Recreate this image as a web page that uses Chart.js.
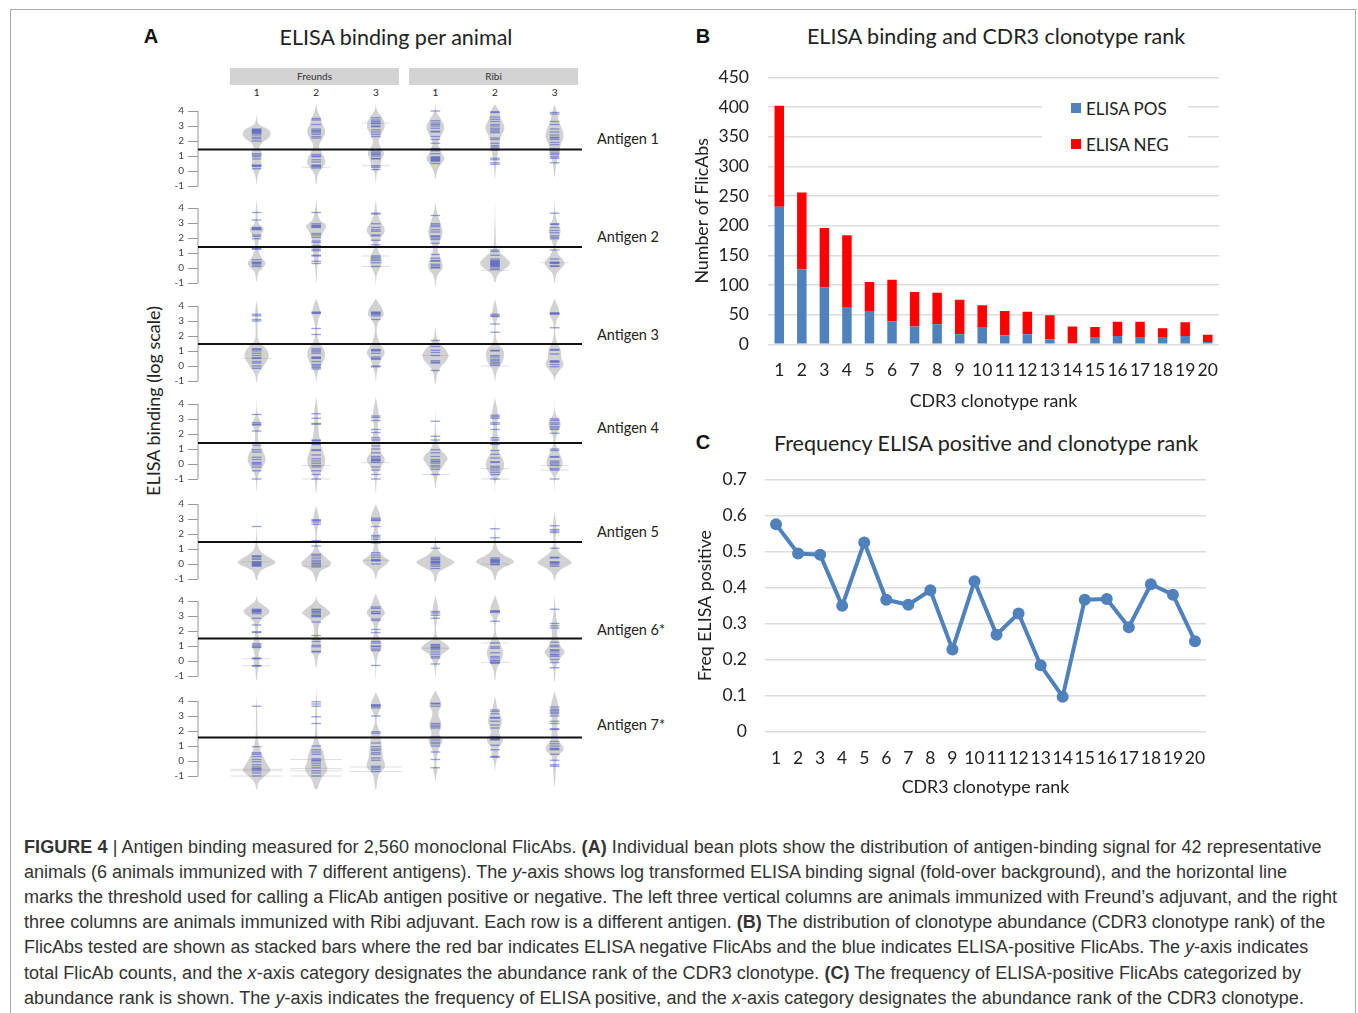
<!DOCTYPE html>
<html>
<head>
<meta charset="utf-8">
<title>Figure 4</title>
<script src="https://cdn.jsdelivr.net/npm/chart.js@4"></script>
<style>
  html, body { margin: 0; padding: 0; background: #fff; overflow: hidden; }
  body { width: 1358px; height: 1013px; position: relative; font-family: Lato, sans-serif; color: #222; }
  canvas { position: absolute; }
  canvas.row { filter: blur(0.45px); }
  .txt { position: absolute; white-space: nowrap; transform: translate(-50%, -50%); }
  .left { transform: translateY(-50%); }
  .letter { font: bold 20px "Liberation Sans", sans-serif; color: #111; }
  .title { font-size: 21.5px; }
  .strip { position: absolute; background: #d3d3d3; text-align: center; font-size: 10px; line-height: 17px; color: #333; }
  .line { position: absolute; left: 24px; white-space: nowrap; font: 18px "Liberation Sans", sans-serif; color: #333; }
  #frame { position: absolute; left: 10px; top: 9px; width: 1346px; height: 1100px; border: 1px solid #aaa; box-sizing: border-box; }
  #legend { position: absolute; left: 1042px; top: 90px; width: 146px; height: 72px; background: #fff; }
  .swatch { position: absolute; width: 10px; height: 10px; }
</style>
</head>
<body>
<div id="frame"></div>

<div class="txt letter" style="left:151px;top:36px">A</div>
<div class="txt title" style="left:396px;top:37px">ELISA binding per animal</div>
<div class="strip" style="left:230px;top:68px;width:169px;height:17px">Freunds</div>
<div class="strip" style="left:409px;top:68px;width:169px;height:17px">Ribi</div>
<div class="txt" style="left:153px;top:401px;font-size:18px;transform:translate(-50%,-50%) rotate(-90deg)">ELISA binding (log scale)</div>

<div class="txt letter" style="left:703px;top:36px">B</div>
<div class="txt title" style="left:996px;top:36px">ELISA binding and CDR3 clonotype rank</div>

<div class="txt letter" style="left:703px;top:442px">C</div>
<div class="txt title" style="left:986px;top:443px">Frequency ELISA positive and clonotype rank</div>

<canvas id="chartB" width="528" height="352" style="left:692px;top:60px"></canvas>
<canvas id="chartC" width="512" height="338" style="left:695px;top:460px"></canvas>

<div id="legend"></div>
<div class="swatch" style="left:1071px;top:103px;background:#4f81bd"></div>
<div class="txt left" style="left:1086px;top:108px;font-size:17px">ELISA POS</div>
<div class="swatch" style="left:1071px;top:139px;background:#ff0000"></div>
<div class="txt left" style="left:1086px;top:144px;font-size:17px">ELISA NEG</div>

<div class="line" style="top:837px;letter-spacing:0.07px"><b>FIGURE 4</b> | Antigen binding measured for 2,560 monoclonal FlicAbs. <b>(A)</b> Individual bean plots show the distribution of antigen-binding signal for 42 representative</div>
<div class="line" style="top:862px;letter-spacing:-0.007px">animals (6 animals immunized with 7 different antigens). The <i>y</i>-axis shows log transformed ELISA binding signal (fold-over background), and the horizontal line</div>
<div class="line" style="top:887px;letter-spacing:0">marks the threshold used for calling a FlicAb antigen positive or negative. The left three vertical columns are animals immunized with Freund’s adjuvant, and the right</div>
<div class="line" style="top:912px;letter-spacing:0.02px">three columns are animals immunized with Ribi adjuvant. Each row is a different antigen. <b>(B)</b> The distribution of clonotype abundance (CDR3 clonotype rank) of the</div>
<div class="line" style="top:937px;letter-spacing:0.012px">FlicAbs tested are shown as stacked bars where the red bar indicates ELISA negative FlicAbs and the blue indicates ELISA-positive FlicAbs. The <i>y</i>-axis indicates</div>
<div class="line" style="top:963px;letter-spacing:0.05px">total FlicAb counts, and the <i>x</i>-axis category designates the abundance rank of the CDR3 clonotype. <b>(C)</b> The frequency of ELISA-positive FlicAbs categorized by</div>
<div class="line" style="top:988px;letter-spacing:0.055px">abundance rank is shown. The <i>y</i>-axis indicates the frequency of ELISA positive, and the <i>x</i>-axis category designates the abundance rank of the CDR3 clonotype.</div>

<script>
// panel B + C data
const ranks = ['1','2','3','4','5','6','7','8','9','10','11','12','13','14','15','16','17','18','19','20'];
const elisaPos = [232,126,96,63,55,39,30,34,17,28,15,17,8,2,11,14,11,11,14,4];
const elisaNeg = [170,130,100,121,50,70,58,53,58,38,41,38,41,28,18,24,27,16,23,12];
const freqPos = [0.575,0.494,0.491,0.349,0.525,0.366,0.352,0.392,0.228,0.417,0.269,0.328,0.184,0.097,0.366,0.368,0.29,0.409,0.38,0.251];

// panel A data, one block per antigen
const antigens = ['Antigen 1','Antigen 2','Antigen 3','Antigen 4','Antigen 5','Antigen 6*','Antigen 7*'];
const animals = ['1','2','3','1','2','3'];
const thresholds = [1.43,1.4,1.47,1.4,1.47,1.5,1.57];

// bean outline per animal: [log binding, density]
const beans1 = [
  [[3.75,0],[3.2,1.5],[3,5],[2.8,11],[2.5,14],[2.2,12],[1.95,7],[1.6,3],[1.2,5],[0.8,4],[0.4,5],[0,3],[-0.4,1],[-0.9,0]],
  [[4.5,0],[4,1.5],[3.6,4],[3.2,6],[2.6,9],[2.1,6],[1.7,3],[1.3,5],[0.9,8],[0.5,9],[0.2,6],[-0.2,2],[-0.9,0]],
  [[4.5,0],[4,1.5],[3.6,6],[3,9],[2.5,6],[2,3],[1.7,4],[1.2,8],[0.8,6],[0.3,4],[-0.2,1],[-0.8,0]],
  [[4.5,0],[3.9,1.5],[3.4,6],[2.9,9],[2.4,6],[1.9,3],[1.5,4],[1.1,7],[0.8,9],[0.4,5],[0,2],[-0.5,0]],
  [[4.45,0],[4,4],[3.5,6],[2.85,9.5],[2.3,6],[1.7,4],[1.2,3],[0.8,2],[0.3,1],[-0.5,0]],
  [[4.45,0],[3.9,2.5],[3.3,4.5],[2.4,9],[1.7,6],[1.2,5],[0.6,2],[-0.4,0]]
];
const beans2 = [
  [[4.6,0],[3.7,1],[3,2],[2.6,7],[2.3,5],[1.8,2],[1.2,2],[0.7,5],[0.3,9],[0,6],[-0.3,2],[-0.9,0]],
  [[4.6,0],[3.7,1.5],[3.2,4],[2.8,10],[2.4,7],[1.8,4],[1,3],[0.4,2],[0,1],[-1,0]],
  [[4.55,0],[3.6,2],[3.1,5],[2.5,9],[2,5],[1.4,2],[0.8,5],[0.4,6],[0,4],[-0.5,1],[-1.1,0]],
  [[4.4,0],[3.6,2],[3,5],[2.3,7],[1.5,3],[1,3],[0.5,6],[0,7],[-0.5,2],[-1.2,0]],
  [[4.6,0],[2.5,0.6],[1.5,1.5],[1.1,4],[0.8,9],[0.55,13],[0.35,15],[0.1,13],[-0.15,8],[-0.45,3],[-0.7,1.5],[-1,0]],
  [[4.55,0],[3.6,1],[3,3],[2.5,6],[2,4],[1.4,1.5],[0.9,4],[0.35,10],[0,7],[-0.4,2],[-1,0]]
];
const beans3 = [
  [[4.4,0],[3.5,1.5],[2.5,1],[1.7,2],[1.4,6],[1.1,10],[0.8,12],[0.5,11.5],[0.1,8],[-0.3,4],[-0.6,1.5],[-1.1,0]],
  [[4.5,0],[3.6,4],[3,2],[2.2,1],[1.6,3],[1.2,7],[0.8,9],[0.3,7],[-0.2,3],[-0.6,1],[-1.1,0]],
  [[4.5,0],[3.5,8],[3.1,4],[2.5,1],[1.7,3],[1.3,6],[0.9,9],[0.5,6],[0,3],[-0.5,1],[-1,0]],
  [[2.6,0],[1.8,2],[1.4,6],[1.1,10],[0.7,13],[0.3,10.5],[-0.1,5],[-0.5,2],[-1.2,0]],
  [[4.5,0],[3.4,3],[2.8,1],[2,1],[1.5,3],[1.1,8],[0.7,9],[0.2,7],[-0.2,3],[-0.6,1],[-1,0]],
  [[4.5,0],[3.5,5],[3,2],[2.2,0.8],[1.5,3],[1.1,6],[0.5,7],[0.1,9],[-0.3,5],[-0.7,1],[-1,0]]
];
const beans4 = [
  [[4.4,0],[3.3,1],[2.7,4],[2.2,2],[1.5,2],[0.9,6],[0.3,9],[-0.2,6],[-0.8,1.5],[-1.8,0]],
  [[4.5,0],[3.4,2],[2.6,2],[1.5,4],[0.8,7],[0.2,9],[-0.4,6],[-0.9,2],[-1.9,0]],
  [[4.5,0],[3.2,3],[2.4,2],[1.5,4],[0.8,5],[0.3,9],[-0.2,5],[-0.8,1.5],[-1.9,0]],
  [[3.7,0],[2.5,0.6],[1.5,2],[1,5],[0.4,12],[0,9],[-0.5,4],[-1,1.5],[-1.6,0]],
  [[4.4,0],[3.3,3],[2.5,2],[1.7,3],[0.8,4],[0.3,8],[-0.2,9],[-0.7,5],[-1.1,1],[-1.9,0]],
  [[4.3,0],[3.4,1],[2.7,6],[2.1,3],[1.5,1],[1,3],[0.4,7],[0,8],[-0.4,5],[-0.9,1],[-1.9,0]]
];
const beans5 = [
  [[3.5,0],[1.8,0.5],[1.1,2],[0.8,5],[0.55,10],[0.3,16],[0.12,19],[-0.1,15],[-0.3,8],[-0.55,3],[-1.1,0]],
  [[3.9,0],[2.9,3],[2.2,1],[1.5,1],[0.9,3],[0.6,7],[0.3,12],[0.05,15],[-0.2,12],[-0.45,5],[-0.8,2],[-1.2,0]],
  [[4,0],[3,5],[2.4,2],[1.9,3],[1.3,2],[0.9,3],[0.6,6],[0.4,10],[0.22,13],[0,11],[-0.25,6],[-0.55,2],[-1,0]],
  [[1.9,0],[1.1,2],[0.75,5],[0.5,10],[0.3,16],[0.12,19],[-0.1,15],[-0.35,8],[-0.6,3],[-1.2,0]],
  [[3.2,0],[2,0.8],[1.1,2],[0.8,5],[0.55,10],[0.35,16],[0.15,19],[-0.05,15],[-0.3,7],[-0.6,2.5],[-1.1,0]],
  [[3.5,0],[2.3,2],[1.5,1],[1,3],[0.7,6],[0.45,11],[0.25,15],[0.05,17],[-0.15,12],[-0.4,6],[-0.7,2],[-1.1,0]]
];
const beans6 = [
  [[4.4,0],[4,1.5],[3.75,6],[3.5,11],[3.3,13],[3.1,11],[2.85,6],[2.4,2],[1.6,2],[1,4],[0.4,2],[0,3],[-0.5,1.5],[-1.3,0]],
  [[4.4,0],[4,1.5],[3.7,6],[3.45,11],[3.2,14],[3,11],[2.75,6],[2.4,3],[1.8,2],[1.3,4],[0.7,5],[0.3,2],[-0.5,0]],
  [[4.5,0],[3.7,5],[3.2,9],[2.8,5],[2.3,2],[1.8,2],[1,6],[0.5,3],[0,1],[-1.2,0]],
  [[4.4,0],[3.3,3],[2.9,2],[2,0.8],[1.5,3],[1.25,8],[1.05,12],[0.85,14],[0.65,11],[0.4,6],[0,3],[-0.4,1],[-1.1,0]],
  [[4.4,0],[3.3,5],[2.8,2],[1.9,1],[1.2,5],[0.6,8],[0,6],[-0.5,2],[-1.3,0]],
  [[4.4,0],[3,1.5],[2.3,3],[1.5,3],[0.9,7],[0.6,10],[0.2,6],[-0.3,2],[-1.4,0]]
];
const beans7 = [
  [[4.6,0],[3,0.6],[2,0.8],[1.2,2],[0.5,5],[0,9],[-0.35,12],[-0.6,14],[-0.85,11],[-1.15,6],[-1.45,2],[-1.9,0]],
  [[4.9,0],[3,1],[2,1],[1.2,3],[0.6,7],[0,9],[-0.6,11],[-1.2,5],[-1.9,0]],
  [[4.6,0],[3.7,5],[3.1,2],[2.6,1],[1.9,4],[1,6],[0.3,7],[-0.4,9],[-0.9,3],[-1.9,0]],
  [[4.7,0],[3.8,6],[3.2,3],[2.4,6],[1.8,4],[1.4,7],[0.9,4],[0.4,2],[-0.2,1],[-0.6,2],[-1,0.8],[-1.4,0]],
  [[4.3,0],[3.4,3],[2.7,7],[1.9,4],[1.4,8],[0.9,4],[0.3,3],[-0.1,1],[-0.7,0]],
  [[4.7,0],[3.5,4],[2.8,3],[2,3],[1.4,4],[0.8,9],[0.3,3],[-0.5,1.5],[-1.2,0.8],[-1.7,0]]
];

// single FlicAb binding values per animal
const lines1 = [
  [2.8,2.75,2.7,2.65,2.6,2.55,2.5,2.4,2.25,2.15,2,1.15,1.05,0.95,0.8,0.4,0.35,0.3,0.15],
  [3.5,3.4,3.1,2.8,2.7,2.65,2.55,2.45,2.3,2.2,1.1,1,0.95,0.75,0.6,0.4,0.35,0.3,0.2],
  [3.55,3.4,3.3,3.2,3.15,3,2.95,2.75,2.6,2.45,2.3,1.35,1.25,1.15,1.1,1,0.85,0.8,0.35,0.25,0.1],
  [4,3.35,3.2,3.1,3,2.85,2.65,2.6,2.3,2.1,1.85,1.5,1.35,1.15,0.95,0.9,0.85,0.8,0.75,0.7,0.65,0.5],
  [3.95,3.9,3.6,3.45,3.3,3.1,3,2.85,2.75,2.65,2.55,2.2,2.1,1.85,1.7,1.6,1.5,1.4,0.85,0.75,0.55,0.45],
  [3.9,3.8,3.3,3.1,2.8,2.6,2.4,2.25,2.2,2.1,1.9,1.75,1.5,1.35,1.2,1.1,0.95,0.85,0.55]
];
const lines2 = [
  [3.7,3.2,2.7,2.65,2.6,2.55,2.2,2.1,1.95,1.3,1.25,0.55,0.4,0.35,0.3,0.2,0.1],
  [3.7,2.95,2.85,2.8,2.75,2.7,2.3,2.2,2.05,1.8,1.7,1.5,1.25,1.15,0.85,0.8,0.45,0.3],
  [3.65,3.6,2.95,2.7,2.55,2.45,2.2,2.15,1.85,1.55,0.8,0.7,0.6,0.5,0.35,0.1],
  [3.5,2.95,2.85,2.75,2.55,2.4,2.15,2.1,2,1.9,1.65,0.9,0.65,0.5,0.45,0.25,0.15,0.05,0],
  [1.2,1.1,0.85,0.6,0.5,0.45,0.4,0.35,0.3,0.25,0.2,0.15,0.1,0,-0.1],
  [3.65,2.95,2.9,2.7,2.5,2.35,2.15,2.05,1.95,1.2,0.6,0.4,0.35,0.3,0.15,0.1]
];
const lines3 = [
  [3.45,3.35,3.1,3,1.15,1.1,1,0.85,0.7,0.55,0.5,0.3,0.2,0,-0.15],
  [3.6,3.55,3.5,2.5,2.1,1.15,1.05,0.95,0.85,0.6,0.55,0.5,0.3,0.1,0,-0.1,-0.2],
  [3.6,3.55,3.5,3.45,3.35,3.1,1.1,1.05,1,0.85,0.6,0.5,0.45,0,-0.05],
  [1.7,1.3,1.05,0.9,0.7,0.35,0.25,0.2,-0.3],
  [3.45,3.35,3.3,2.8,2.25,1.05,1,0.7,0.6,0.45,0.35,0.25,0.15,0.05],
  [3.55,3.5,3.45,2.55,1.1,1.05,0.8,0.35,0.3,0.25,0.1,-0.05]
];
const lines4 = [
  [3.3,2.75,2.65,2.6,2.2,1.25,0.95,0.8,0.45,0.3,0.1,0.05,-0.05,-0.2,-0.45,-1],
  [3.35,3.05,2.7,2.65,1.6,1.55,1.4,1.3,0.95,0.9,0.6,0.35,0.2,0.05,-0.1,-0.2,-0.45,-0.7,-1],
  [3.2,3.1,2.9,2.3,2.1,1.75,1.6,1.4,1.2,1,0.75,0.5,0.4,0.3,0.25,0.2,0.1,-0.2,-0.4,-0.7,-1],
  [2.85,1.85,1.6,0.95,0.75,0.5,0.3,0.2,0.15,0.05,-0.1,-0.2,-0.35,-0.7],
  [3.25,3.15,3.05,2.75,2.65,2.3,1.75,1.6,1.3,0.9,0.65,0.4,0.15,0.1,-0.15,-0.25,-0.4,-0.55,-0.7,-1],
  [3,2.9,2.75,2.65,2.5,2.4,2.3,2.05,1,0.9,0.5,0.45,0.2,0.1,0,-0.1,-0.3,-0.4,-1]
];
const lines5 = [
  [2.5,0.55,0.5,0.4,0.3,0.15,0.1,0.05,0,-0.05,-0.1,-0.15],
  [2.95,2.9,2.8,2.65,1.55,1.2,0.65,0.55,0.4,0.25,0.15,0.05,0,-0.1,-0.2],
  [3.05,2.95,2.9,2.5,1.9,1.8,1.65,1.4,0.75,0.6,0.45,0.3,0.25,0.2,0],
  [1.05,0.45,0.35,0.3,0.2,0.15,0.1,0.05,-0.05,-0.15,-0.3],
  [2.35,1.75,0.4,0.3,0.25,0.2,0.15,0.1,0,-0.05],
  [2.55,2.3,2.2,2.1,1.05,0.45,0.4,0.15,0.1,0.05,-0.05,-0.15]
];
const lines6 = [
  [3.45,3.4,3.35,3.3,3.25,3.15,2.85,2.4,1.95,1.9,1.15,1.05,0.95,0.9,0.2,0.15,-0.3,-0.35],
  [3.45,3.4,3.3,3.25,3.15,3.05,3,2.95,2.6,1.7,1.45,1.3,1.05,0.95,0.65,0.6],
  [3.6,3.5,3.3,3.2,3.15,2.8,2.7,2.1,1.9,1.3,1.2,1,0.95,0.8,0.7,-0.3],
  [3.3,3.2,3.05,2.85,1.1,1.05,0.95,0.9,0.85,0.75,0.6,0.45,0.3,0.2,-0.2],
  [3.35,3.3,3.25,2.65,1.2,0.95,0.85,0.55,0.3,0.2,0.05,0,-0.1,-0.15],
  [3.45,2.5,2.35,2.2,1.5,1.25,1.05,0.95,0.75,0.7,0.6,0.45,0.4,0.3,0.1,-0.1,-0.45]
];
const lines7 = [
  [3.65,0.95,0.55,0.45,0.3,0.1,-0.05,-0.25,-0.4,-0.5,-0.55,-0.65,-0.8,-1],
  [3.95,3.8,3.65,2.95,2.5,1,0.75,0.6,0.45,0.15,0.05,0,-0.15,-0.3,-0.45,-0.65,-0.8,-1],
  [3.75,3.7,3.65,3.55,3,1.95,1.85,1.2,0.95,0.8,0.7,0.55,0.45,0.2,0.05,-0.35,-0.45,-0.55,-0.7],
  [3.85,3.8,3.65,2.5,2.4,2.3,2.2,1.6,1.4,1.25,1.15,1,0.6,0.1,-0.45],
  [3.4,3.3,3.15,2.9,2.85,2.65,2.4,2.2,1.6,1.5,1.45,1.4,1.05,0.75,0.3,0.25],
  [3.6,3.45,3.35,3.25,3.15,3,2.65,2.5,2.15,2.1,1.3,1.15,1,0.85,0.8,0.75,0.45,0.05,-0.25,-0.35]
];
// the few values with a long faint line: [animal index, value]
const faint1 = [[1,0.25],[2,0.35],[2,3.2]];
const faint2 = [[4,-0.15],[5,0.35],[2,0.8],[2,0.1]];
const faint3 = [[4,0],[0,0.5],[3,0.7]];
const faint4 = [[1,-0.1],[1,-1],[2,0.1],[3,-0.7],[4,-0.3],[4,-1],[5,-0.1],[5,-0.4]];
const faint5 = [[0,0.15],[1,-0.15],[2,0.25],[4,0]];
const faint6 = [[0,0.15],[0,-0.3],[3,0.85],[4,-0.1],[4,1.2]];
const faint7 = [[0,-0.55],[0,-0.65],[0,-1],[1,-0.5],[1,-0.65],[1,-1],[1,0.1],[2,-0.4],[2,-0.7]];

const allBeans = [beans1,beans2,beans3,beans4,beans5,beans6,beans7];
const allLines = [lines1,lines2,lines3,lines4,lines5,lines6,lines7];
const allFaint = [faint1,faint2,faint3,faint4,faint5,faint6,faint7];

// layout of panel A
const rowTop = [111,208,306,404,504,601,701];   // pixel y of tick "4" in each row
const colLabelX = [256.6,316.2,375.8,435.4,495,554.6];
const labelY = [138,236,334,427,531,629,724];

Chart.defaults.animation = false;
Chart.defaults.responsive = false;
Chart.defaults.font.family = 'Lato, sans-serif';
Chart.defaults.color = '#222';

// chart area is placed by hand, stop the scales adding label overhang to it
function fixBox(s, w, h) {
  if (w) s.width = w;
  if (h) s.height = h;
  s.paddingTop = s.paddingBottom = s.paddingLeft = s.paddingRight = 0;
}

function addText(txt, x, y, size, cls) {
  const d = document.createElement('div');
  d.className = 'txt ' + (cls || '');
  d.textContent = txt;
  d.style.left = x + 'px';
  d.style.top = y + 'px';
  d.style.fontSize = size + 'px';
  document.body.appendChild(d);
}

animals.forEach((a, i) => addText(a, colLabelX[i], 92, 10));
antigens.forEach((a, i) => addText(a, 597, labelY[i], 14.5, 'left'));

function beanShape(profile, cx) {
  const left = profile.map(p => ({x: cx - p[1], y: p[0]}));
  const right = profile.slice(1, -1).reverse().map(p => ({x: cx + p[1], y: p[0]}));
  const pts = left.concat(right);
  pts.push(pts[0]);
  return pts;
}

allBeans.forEach((beans, r) => {
  const cv = document.createElement('canvas');
  cv.className = 'row';
  cv.width = 448;
  cv.height = 105;
  cv.style.left = '150px';
  cv.style.top = (rowTop[r] - 15) + 'px';
  document.body.appendChild(cv);

  const xMin = 1, xMax = 403.7;
  const datasets = [];
  beans.forEach((b, c) => {
    datasets.push({
      data: beanShape(b, (c + 1) * 60),
      showLine: true, fill: 'shape', backgroundColor: '#d2d2d2',
      borderWidth: 0, pointRadius: 0, tension: 0.45, order: 5
    });
    datasets.push({
      data: allLines[r][c].map(v => ({x: (c + 1) * 60, y: v})),
      pointStyle: 'line', pointRadius: 4.8, pointBorderWidth: 1.3,
      pointBorderColor: 'rgba(50,70,185,0.5)', order: 3
    });
  });
  datasets.push({
    data: allFaint[r].map(f => ({x: (f[0] + 1) * 60, y: f[1]})),
    pointStyle: 'line', pointRadius: r == 6 ? 26 : 14, pointBorderWidth: 1,
    pointBorderColor: 'rgba(150,150,170,0.3)', order: 4
  });
  // threshold and the y axis stem
  datasets.push({
    data: [{x: xMin, y: thresholds[r]}, {x: 387.6, y: thresholds[r]}],
    showLine: true, borderColor: '#111', borderWidth: 2, pointRadius: 0, order: 1
  });
  datasets.push({
    data: [{x: xMin, y: -1}, {x: xMin, y: 4}],
    showLine: true, borderColor: '#999', borderWidth: 1, pointRadius: 0, clip: false, order: 2
  });

  new Chart(cv, {
    type: 'scatter',
    data: {datasets: datasets},
    options: {
      layout: {padding: 0, autoPadding: false},
      plugins: {legend: {display: false}, tooltip: {enabled: false}},
      scales: {
        x: {type: 'linear', display: false, min: xMin, max: xMax},
        y: {
          min: -2, max: 5,
          afterFit: s => fixBox(s, 48),
          border: {display: false},
          grid: {
            drawOnChartArea: false, tickLength: 10, lineWidth: 1,
            color: c => (c.tick.value < -1 || c.tick.value > 4) ? 'transparent' : '#999'
          },
          ticks: {
            stepSize: 1, autoSkip: false, padding: 4, color: '#444',
            font: {size: 10},
            callback: v => (v < -1 || v > 4) ? '' : v
          }
        }
      }
    }
  });
});

const tickFont = {size: 17.5};
const gridColor = '#dcdcdc';

new Chart(document.getElementById('chartB'), {
  type: 'bar',
  data: {
    labels: ranks,
    datasets: [
      {label: 'ELISA POS', data: elisaPos, backgroundColor: '#4f81bd'},
      {label: 'ELISA NEG', data: elisaNeg, backgroundColor: '#ff0000'}
    ]
  },
  options: {
    layout: {padding: {top: 17.3, right: 1}, autoPadding: false},
    datasets: {bar: {barPercentage: 0.42, categoryPercentage: 1}},
    plugins: {legend: {display: false}, tooltip: {enabled: false}},
    scales: {
      x: {
        stacked: true,
        afterFit: s => fixBox(s, 0, 67.7),
        border: {display: false},
        grid: {display: false},
        title: {display: true, text: 'CDR3 clonotype rank', font: {size: 17.8}, padding: 0},
        ticks: {autoSkip: false, maxRotation: 0, minRotation: 0, padding: 8, font: tickFont}
      },
      y: {
        stacked: true, min: 0, max: 450,
        afterFit: s => fixBox(s, 76),
        border: {display: false},
        grid: {drawTicks: false, color: gridColor, lineWidth: 1.5},
        title: {display: true, text: 'Number of FlicAbs', font: {size: 17.8}, padding: 0},
        ticks: {stepSize: 50, padding: 19, font: tickFont}
      }
    }
  }
});

new Chart(document.getElementById('chartC'), {
  type: 'line',
  data: {
    labels: ranks,
    datasets: [{
      label: 'Freq ELISA positive', data: freqPos,
      borderColor: '#4f81bd', borderWidth: 4, tension: 0,
      pointRadius: 6, pointBackgroundColor: '#4f81bd', pointBorderWidth: 0
    }]
  },
  options: {
    layout: {padding: {top: 19.3, right: 1}, autoPadding: false},
    plugins: {legend: {display: false}, tooltip: {enabled: false}},
    scales: {
      x: {
        offset: true,
        afterFit: s => fixBox(s, 0, 66.3),
        border: {display: false},
        grid: {display: false},
        title: {display: true, text: 'CDR3 clonotype rank', font: {size: 17.8}, padding: 0},
        ticks: {autoSkip: false, maxRotation: 0, minRotation: 0, padding: 8, font: tickFont}
      },
      y: {
        min: 0, max: 0.7,
        afterFit: s => fixBox(s, 70),
        border: {display: false},
        grid: {drawTicks: false, color: gridColor, lineWidth: 1.5},
        title: {display: true, text: 'Freq ELISA positive', font: {size: 17.8}, padding: 0},
        ticks: {stepSize: 0.1, padding: 18, font: tickFont, callback: v => v == 0 ? '0' : v.toFixed(1)}
      }
    }
  }
});
</script>
</body>
</html>
